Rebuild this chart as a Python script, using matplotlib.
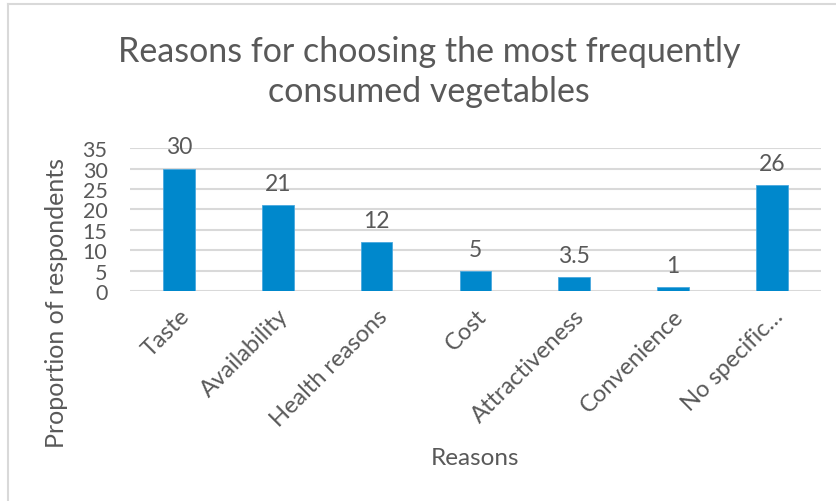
import matplotlib.pyplot as plt
from matplotlib.lines import Line2D

plt.rcParams['font.family'] = ['Lato', 'DejaVu Sans']

reasons = ["Taste", "Availability", "Health reasons", "Cost",
           "Attractiveness", "Convenience", "No specific\u2026"]
values = [30, 21, 12, 5, 3.5, 1, 26]
value_labels = ["30", "21", "12", "5", "3.5", "1", "26"]
yticks = [0, 5, 10, 15, 20, 25, 30, 35]

grey = '#595959'
bar_color = '#0088CC'

fig = plt.figure(figsize=(8.37, 5.02), dpi=100)
ax = fig.add_axes([0.155, 0.418, 0.826, 0.285])

x = range(len(reasons))
bars = ax.bar(x, values, width=0.32, color=bar_color, edgecolor='#4AA8DE',
              linewidth=0.6, zorder=3)

for xi, v, lab in zip(x, values, value_labels):
    ax.annotate(lab, (xi, v), xytext=(0, 8), textcoords='offset points',
                ha='center', va='bottom', fontsize=16.5, color=grey)

ax.set_xlim(-0.5, len(reasons) - 0.5)
ax.set_ylim(0, 35)
ax.set_yticks(yticks)
ax.set_yticklabels([str(t) for t in yticks], fontsize=15.5, color=grey)
ax.set_xticks(list(x))
ax.set_xticklabels(reasons, rotation=45, ha='right', rotation_mode='anchor',
                   fontsize=17, color=grey)
ax.tick_params(axis='both', length=0)
ax.tick_params(axis='y', pad=16)
ax.tick_params(axis='x', pad=10)

ax.grid(axis='y', color='#D9D9D9', linewidth=1.5, zorder=0)
for s in ax.spines.values():
    s.set_visible(False)

ax.set_ylabel('Proportion of respondents', fontsize=18, color=grey)
ax.yaxis.set_label_coords(-0.09, -0.077)
ax.set_xlabel('Reasons', fontsize=17.5, color=grey)
ax.xaxis.set_label_coords(0.5, -1.09)

fig.text(0.5125, 0.856, 'Reasons for choosing the most frequently\nconsumed vegetables',
         ha='center', va='center', fontsize=24.5, color=grey, linespacing=1.3)

# outer chart border (only left and top visible in the crop)
fig.add_artist(Line2D([0.0096, 0.0096], [0.0, 0.99], transform=fig.transFigure,
                      color='#D9D9D9', linewidth=1.5))
fig.add_artist(Line2D([0.0096, 1.0], [0.99, 0.99], transform=fig.transFigure,
                      color='#D9D9D9', linewidth=1.5))

fig.savefig('out.png', dpi=100)
